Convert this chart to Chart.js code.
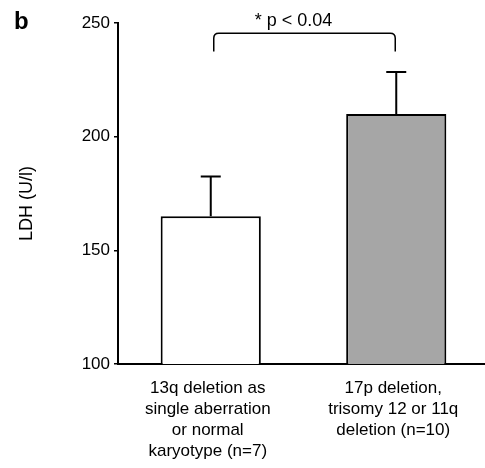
<!DOCTYPE html>
<html>
<head>
<meta charset="utf-8">
<script src="https://cdn.jsdelivr.net/npm/chart.js@4.4.1/dist/chart.umd.min.js"></script>
<style>
  html, body { margin: 0; padding: 0; background: #fff; }
  #wrap { width: 485px; height: 468px; position: relative; }
</style>
</head>
<body>
<div id="wrap"><canvas id="c" width="485" height="468"></canvas></div>
<script>
// ---- data ----
const categories = [
  ["13q deletion as", "single aberration", "or normal", "karyotype (n=7)"],
  ["17p deletion,", "trisomy 12 or 11q", "deletion (n=10)"]
];
const meanLDH = [165, 210];
const errLDH = [17.5, 18.5];
const yTicks = [100, 150, 200, 250];
const barColors = ["#ffffff", "#a6a6a6"];
const bracketTop = 245.5;
const bracketEnd = 237.5;
const pLabel = "* p < 0.04";
const panelLetter = "b";
const yTitle = "LDH (U/l)";

const FONT = "'Liberation Sans', Arial, Helvetica, sans-serif";

const overlay = {
  id: 'overlay',
  afterLayout(chart) {
    // the x axis runs slightly past the right edge of the canvas in the reference
    const x = chart.scales.x;
    x.right = x.right + 4;
    x.width = x.right - x.left;
    x.configure();
  },
  afterDatasetsDraw(chart) {
    const ctx = chart.ctx;
    const meta = chart.getDatasetMeta(0);
    const y = chart.scales.y;
    ctx.save();
    ctx.strokeStyle = '#000';
    ctx.lineWidth = 2;
    // error bars
    meta.data.forEach((bar, i) => {
      const x = bar.x;
      const y0 = y.getPixelForValue(meanLDH[i]);
      const y1 = y.getPixelForValue(meanLDH[i] + errLDH[i]);
      ctx.beginPath();
      ctx.moveTo(x, y0);
      ctx.lineTo(x, y1);
      ctx.moveTo(x - 10, y1);
      ctx.lineTo(x + 10, y1);
      ctx.stroke();
    });
    // significance bracket
    const xa = meta.data[0].x + 3;
    const xb = meta.data[1].x - 1;
    const yt = y.getPixelForValue(bracketTop);
    const ye = y.getPixelForValue(bracketEnd);
    const r = 5;
    ctx.lineWidth = 1.5;
    ctx.beginPath();
    ctx.moveTo(xa, ye);
    ctx.lineTo(xa, yt + r);
    ctx.quadraticCurveTo(xa, yt, xa + r, yt);
    ctx.lineTo(xb - r, yt);
    ctx.quadraticCurveTo(xb, yt, xb, yt + r);
    ctx.lineTo(xb, ye);
    ctx.stroke();
    // p label
    ctx.fillStyle = '#000';
    ctx.font = "18px " + FONT;
    ctx.textAlign = 'center';
    ctx.textBaseline = 'alphabetic';
    ctx.fillText(pLabel, (xa + xb) / 2 - 11, 26);
    // panel letter
    ctx.font = "bold 24px " + FONT;
    ctx.textAlign = 'left';
    ctx.fillText(panelLetter, 14, 29);
    // y axis title (sits a little below the middle of the axis in the reference)
    ctx.save();
    ctx.translate(27, (chart.chartArea.top + chart.chartArea.bottom) / 2 + 10);
    ctx.rotate(-Math.PI / 2);
    ctx.font = "18px " + FONT;
    ctx.textAlign = 'center';
    ctx.textBaseline = 'middle';
    ctx.fillText(yTitle, 0, 0);
    ctx.restore();
    ctx.restore();
  }
};

new Chart(document.getElementById('c'), {
  type: 'bar',
  data: {
    labels: categories,
    datasets: [{
      data: meanLDH,
      backgroundColor: barColors,
      borderColor: '#000',
      borderWidth: 2,
      borderSkipped: 'start',
      categoryPercentage: 1,
      barPercentage: 0.54
    }]
  },
  options: {
    responsive: false,
    animation: false,
    devicePixelRatio: 1,
    layout: { padding: { top: 23, left: 17, right: 0, bottom: 0 } },
    plugins: { legend: { display: false }, tooltip: { enabled: false } },
    scales: {
      x: {
        grid: { display: false, drawTicks: false },
        border: { display: true, color: '#000', width: 2 },
        ticks: {
          color: '#000',
          font: { family: FONT, size: 17, lineHeight: 1.24 },
          padding: 14,
          labelOffset: -3,
          maxRotation: 0,
          autoSkip: false
        },
        afterFit(s) { s.height = 104; }
      },
      y: {
        min: 100,
        max: 250,
        afterBuildTicks(s) { s.ticks = yTicks.map(v => ({ value: v })); },
        grid: { display: true, drawOnChartArea: false, drawTicks: true, tickLength: 4, color: '#000', lineWidth: 1.5 },
        border: { display: true, color: '#000', width: 2 },
        ticks: {
          color: '#000',
          font: { family: FONT, size: 17 },
          padding: 4
        },
        title: { display: false },
        afterFit(s) { s.width = 101; }
      }
    }
  },
  plugins: [overlay]
});
</script>
</body>
</html>
